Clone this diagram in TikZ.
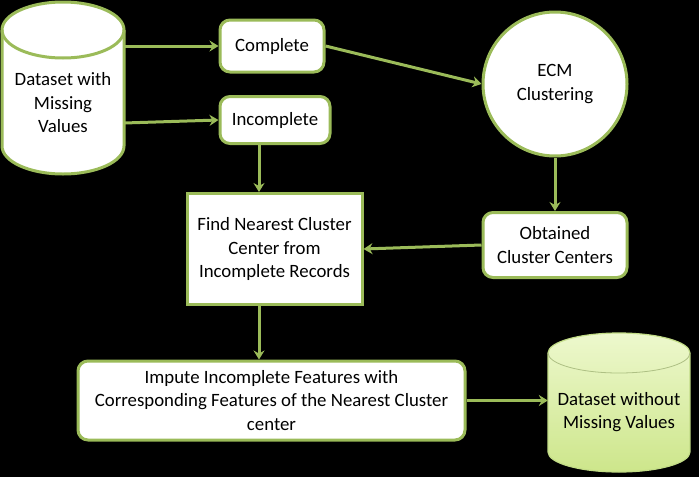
\documentclass[tikz,border=0pt]{standalone}
\usepackage{fontspec}
\setmainfont{Carlito}
\usetikzlibrary{arrows.meta}
\definecolor{verde}{HTML}{9BBB59}
\definecolor{verdeclaro}{HTML}{EDF8CD}
\definecolor{verdemedio}{HTML}{CDE68B}
\definecolor{verdeborda}{HTML}{C2DC86}
\tikzset{
  caixa/.style={draw=verde, line width=3pt, fill=white, rounded corners=10pt, align=center, inner sep=0pt},
  seta/.style={draw=verde, line width=3pt, -{Stealth[length=9pt,width=11pt,inset=3pt]}},
  texto/.style={align=center, inner sep=0pt}
}
\begin{document}
\begin{tikzpicture}[x=1pt, y=-1pt, font=\fontsize{18.8}{23.5}\selectfont]
  % Fundo
  \fill[black] (0,0) rectangle (699,477);
  % Cilindros
  \draw[verde, line width=3pt, fill=white] (2,30) -- (2,146)
    arc[start angle=180, end angle=0, x radius=61, y radius=28] -- (124,30)
    arc[start angle=0, end angle=-180, x radius=61, y radius=28] -- cycle;
  \draw[verde, line width=3pt] (2,30) arc[start angle=180, end angle=0, x radius=61, y radius=28];
  \draw[verdeborda, line width=1.2pt, top color=verdeclaro, bottom color=verdemedio] (548,353) -- (548,452)
    arc[start angle=180, end angle=0, x radius=71, y radius=20] -- (690,353)
    arc[start angle=0, end angle=-180, x radius=71, y radius=20] -- cycle;
  \draw[verdeborda!70!gray, line width=0.8pt] (548,353) arc[start angle=180, end angle=0, x radius=71, y radius=20];
  % Nos
  \node[texto, minimum width=122pt] (dsin) at (63,103) {Dataset with\\Missing\\Values};
  \node[caixa, minimum width=104pt, minimum height=52pt] (cmp) at (272,46) {Complete};
  \node[caixa, minimum width=110pt, minimum height=47pt] (inc) at (275,120) {Incomplete};
  \node[circle, draw=verde, line width=3pt, fill=white, minimum size=144pt, align=center, inner sep=0pt] (ecm) at (555,84) {ECM\\Clustering};
  \node[caixa, minimum width=144pt, minimum height=65pt] (obt) at (555,245) {Obtained\\Cluster Centers};
  \node[caixa, sharp corners, minimum width=175pt, minimum height=111pt] (fnd) at (274.5,249) {Find Nearest Cluster\\Center from\\Incomplete Records};
  \node[caixa, minimum width=387pt, minimum height=79pt] (imp) at (271.5,400.5) {Impute Incomplete Features with\\Corresponding Features of the Nearest Cluster\\center};
  \node[texto, minimum width=142pt] (dsout) at (619,412) {Dataset without\\Missing Values};
  \coordinate (eixo) at (259,0);
  % Setas
  \draw[seta] (dsin.east |- cmp.west) -- (cmp.west);
  \draw[seta] ([yshift=-3pt]dsin.east |- inc.west) -- (inc.west);
  \draw[seta] (cmp.east) -- (ecm.west);
  \draw[seta] (ecm.south) -- (obt.north);
  \draw[seta] (obt.west) -- (fnd.east);
  \draw[seta] (inc.south -| eixo) -- (fnd.north -| eixo);
  \draw[seta] (fnd.south -| eixo) -- (imp.north -| eixo);
  \draw[seta] (imp.east) -- (imp.east -| dsout.west);
\end{tikzpicture}
\end{document}
